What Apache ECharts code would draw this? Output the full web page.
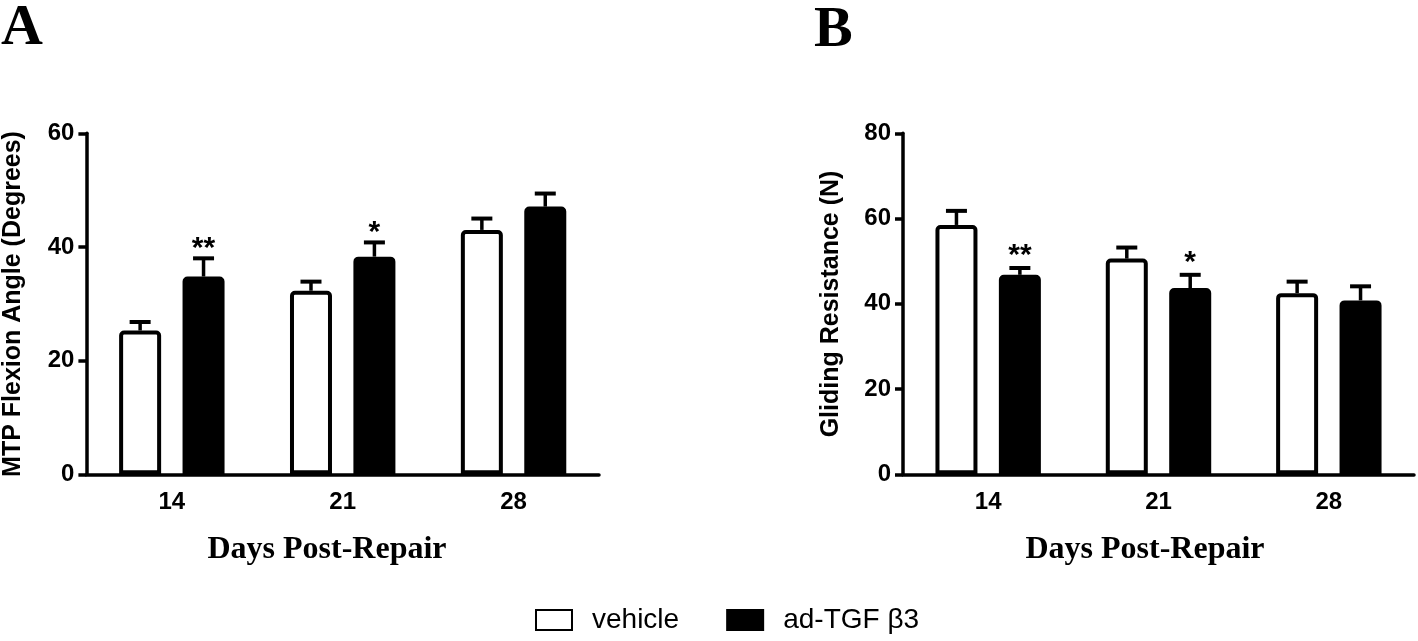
<!DOCTYPE html>
<html>
<head>
<meta charset="utf-8">
<script src="https://cdn.jsdelivr.net/npm/echarts@6/dist/echarts.min.js"></script>
<style>
html,body{margin:0;padding:0;background:#fff;}
#chart{width:1418px;height:641px;}
</style>
</head>
<body>
<div id="chart"></div>
<script>
// ---- data ----
const categories = ['14', '21', '28'];
const seriesNames = ['vehicle', 'ad-TGF β3'];
// Panel A: MTP Flexion Angle (Degrees)
const vehicleA = [25.3, 32.3, 43.0];
const vehicleSemA = [1.5, 1.6, 2.0];
const tgfA = [34.8, 38.3, 47.1];
const tgfSemA = [3.2, 2.5, 2.3];
const sigA = ['**', '*', ''];
// Panel B: Gliding Resistance (N)
const vehicleB = [58.5, 50.6, 42.5];
const vehicleSemB = [3.3, 2.6, 2.7];
const tgfB = [46.8, 43.7, 40.8];
const tgfSemB = [1.6, 3.1, 3.3];
const sigB = ['**', '*', ''];
const yMaxA = 60, yMaxB = 80, yStep = 20;

// ---- styles ----
const BAR_W = 42, BAR_GAP = 0.51;
const OFF = BAR_W * (1 + BAR_GAP) / 2;
const SANS = "'Liberation Sans', Arial, sans-serif";
const SERIF = "'Liberation Serif', 'Times New Roman', serif";

function errSeries(axisIdx, means, sems, sign, sigs, sigShift) {
  return {
    type: 'custom',
    xAxisIndex: axisIdx, yAxisIndex: axisIdx,
    z: 5, silent: true,
    data: means.map((m, i) => [i, m, m + sems[i]]),
    renderItem: function (params, api) {
      const i = api.value(0);
      const base = api.coord([i, api.value(1)]);
      const top = api.coord([i, api.value(2)]);
      const x = base[0] + sign * OFF;
      const children = [
        { type: 'line', shape: { x1: x, y1: base[1], x2: x, y2: top[1] }, style: { stroke: '#000', lineWidth: 3.5 } },
        { type: 'line', shape: { x1: x - 10.5, y1: top[1], x2: x + 10.5, y2: top[1] }, style: { stroke: '#000', lineWidth: 4 } }
      ];
      const s = sigs ? sigs[params.dataIndex] : '';
      if (s) {
        children.push({ type: 'text', style: { text: s, x: x, y: top[1] - sigShift, textAlign: 'center', textVerticalAlign: 'middle', font: 'bold 30px ' + SANS, fill: '#000' } });
      }
      return { type: 'group', children: children };
    }
  };
}

function barSeries(axisIdx, name, vals, fill) {
  return {
    type: 'bar', name: name,
    xAxisIndex: axisIdx, yAxisIndex: axisIdx,
    data: vals, barWidth: BAR_W, barGap: (BAR_GAP * 100) + '%',
    itemStyle: { color: fill, borderColor: '#000', borderWidth: 4, borderRadius: [3, 3, 0, 0] },
    emphasis: { disabled: true }
  };
}

function xAx(gi) {
  return {
    type: 'category', gridIndex: gi, data: categories,
    axisLine: { lineStyle: { color: '#000', width: 3.5 } },
    axisTick: { alignWithLabel: true, length: 8, lineStyle: { color: '#000', width: 3.5 } },
    axisLabel: { color: '#000', fontSize: 24, fontWeight: 'bold', fontFamily: SANS, margin: 16 },
    splitLine: { show: false }
  };
}
function yAx(gi, max) {
  return {
    type: 'value', gridIndex: gi, min: 0, max: max, interval: yStep,
    axisLine: { show: true, lineStyle: { color: '#000', width: 3.5 } },
    axisTick: { show: true, length: 8, lineStyle: { color: '#000', width: 3.5 } },
    axisLabel: { color: '#000', fontSize: 24, fontWeight: 'bold', fontFamily: SANS, margin: 12 },
    splitLine: { show: false }
  };
}

const chart = echarts.init(document.getElementById('chart'), null, { renderer: 'canvas' });
chart.setOption({
  backgroundColor: '#fff',
  animation: false,
  grid: [
    { left: 86.4, width: 512.6, top: 133.3, height: 341, containLabel: false },
    { left: 903, width: 511, top: 133.3, height: 341, containLabel: false }
  ],
  xAxis: [xAx(0), xAx(1)],
  yAxis: [yAx(0, yMaxA), yAx(1, yMaxB)],
  legend: {
    data: seriesNames, left: 535, top: 606, padding: 0,
    icon: 'rect',
    itemWidth: 36, itemHeight: 20, itemGap: 47,
    selectedMode: false,
    textStyle: { color: '#000', fontSize: 28, fontFamily: SANS, padding: [0, 0, 0, 15] }
  },
  graphic: [
    { type: 'text', x: 1, y: 0, style: { text: 'A', x: 0, y: 0, font: 'bold 58px ' + SERIF, fill: '#000' } },
    { type: 'text', x: 814, y: 2, style: { text: 'B', x: 0, y: 0, font: 'bold 58px ' + SERIF, fill: '#000' } },
    { type: 'text', style: { text: 'MTP Flexion Angle (Degrees)', x: 0, y: 0, textAlign: 'center', textVerticalAlign: 'middle', font: 'bold 25px ' + SANS, fill: '#000' }, x: 13, y: 304, rotation: Math.PI / 2 },
    { type: 'text', style: { text: 'Gliding Resistance (N)', x: 0, y: 0, textAlign: 'center', textVerticalAlign: 'middle', font: 'bold 25px ' + SANS, fill: '#000' }, x: 831.3, y: 304, rotation: Math.PI / 2 },
    { type: 'text', style: { text: 'Days Post-Repair', x: 327, y: 550, textAlign: 'center', textVerticalAlign: 'middle', font: 'bold 32px ' + SERIF, fill: '#000' } },
    { type: 'text', style: { text: 'Days Post-Repair', x: 1145, y: 550, textAlign: 'center', textVerticalAlign: 'middle', font: 'bold 32px ' + SERIF, fill: '#000' } }
  ],
  series: [
    barSeries(0, seriesNames[0], vehicleA, '#fff'),
    barSeries(0, seriesNames[1], tgfA, '#000'),
    barSeries(1, seriesNames[0], vehicleB, '#fff'),
    barSeries(1, seriesNames[1], tgfB, '#000'),
    errSeries(0, vehicleA, vehicleSemA, -1, null, 0),
    errSeries(0, tgfA, tgfSemA, 1, sigA, 9.5),
    errSeries(1, vehicleB, vehicleSemB, -1, null, 0),
    errSeries(1, tgfB, tgfSemB, 1, sigB, 12)
  ]
});
</script>
</body>
</html>
